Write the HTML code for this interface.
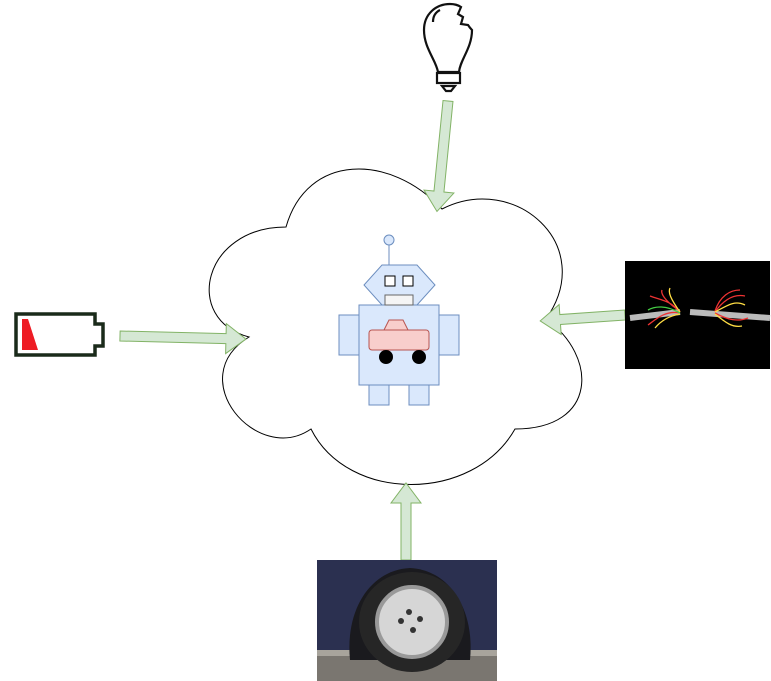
<!DOCTYPE html>
<html><head><style>html,body{margin:0;padding:0;background:#fff}svg{display:block}</style></head>
<body>
<svg width="771" height="681" viewBox="0 0 771 681" xmlns="http://www.w3.org/2000/svg">
<defs>
<radialGradient id="tire" cx="0.5" cy="0.5" r="0.5"><stop offset="0.55" stop-color="#ddd"/><stop offset="0.62" stop-color="#aaa"/><stop offset="0.66" stop-color="#333"/><stop offset="1" stop-color="#222"/></radialGradient>
</defs>
<!-- cloud -->
<g transform="translate(182,135)">
<path d="M104,92 C21,92 0,184 67,202 C0,243 75,331 129,294 C166,368 291,368 333,294 C416,294 416,221 364,184 C416,110 333,37 260,74 C208,18 125,18 104,92 Z" fill="#fff" stroke="#000" stroke-width="1"/>
</g>
<!-- arrows -->
<g fill="#d5e8d4" stroke="#82b366" stroke-width="1">
<path transform="translate(120,336) rotate(1.4)" d="M0,-5 L106,-5 L106,-15 L126,0 L106,15 L106,5 L0,5 Z"/>
<path transform="translate(448,101) rotate(95.7)" d="M0,-5 L91,-5 L91,-15 L111,0 L91,15 L91,5 L0,5 Z"/>
<path transform="translate(625,315) rotate(176)" d="M0,-5 L65,-5 L65,-15 L85,0 L65,15 L65,5 L0,5 Z"/>
<path transform="translate(406,560) rotate(-90)" d="M0,-5 L57,-5 L57,-15 L77,0 L57,15 L57,5 L0,5 Z"/>
</g>
<!-- robot -->
<g stroke="#6c8ebf" stroke-width="1" fill="#dae8fc">
<line x1="389" y1="245" x2="389" y2="265"/>
<circle cx="389" cy="240" r="5"/>
<polygon points="382,265 417,265 435,285 417,305 382,305 364,285"/>
<rect x="339" y="315" width="20" height="40"/>
<rect x="439" y="315" width="20" height="40"/>
<rect x="369" y="385" width="20" height="20"/>
<rect x="409" y="385" width="20" height="20"/>
<rect x="359" y="305" width="80" height="80"/>
</g>
<rect x="385" y="276" width="10" height="10" fill="#fff" stroke="#000"/>
<rect x="403" y="276" width="10" height="10" fill="#fff" stroke="#000"/>
<rect x="385" y="295" width="28" height="10" fill="#f5f5f5" stroke="#666"/>
<polygon points="384,330 389,320 403,320 408,330" fill="#f8cecc" stroke="#b85450"/>
<rect x="369" y="330" width="60" height="20" rx="3" fill="#f8cecc" stroke="#b85450"/>
<circle cx="386" cy="357" r="7" fill="#000"/>
<circle cx="419" cy="357" r="7" fill="#000"/>
<!-- battery -->
<path d="M16,314 L95,314 L95,324 L103,324 L103,346 L95,346 L95,355 L16,355 Z" fill="#fff" stroke="#1a2a1a" stroke-width="3.5"/>
<polygon points="22,319 28,319 38,350 22,350" fill="#ee1c24"/>
<!-- bulb -->
<g fill="none" stroke="#111" stroke-width="2.2">
<path d="M438,72 C436,60 424,48 424,30 C424,14 436,4 450,4 C454,4 458,5 461,7 L458,14 L463,17 L461,24 L468,25 C470,28 472,30 472,30 C472,48 460,60 459,72 Z"/>
<path d="M433,22 C433,16 436,12 440,10"/>
<rect x="437" y="73" width="23" height="10"/>
<path d="M442,86 L455,86 L451,91 L446,91 Z"/>
</g>
<!-- wires -->
<rect x="625" y="261" width="145" height="108" fill="#000"/>
<g stroke-width="1.3" fill="none">
<path d="M680,312 L630,318" stroke="#bbb" stroke-width="6"/>
<path d="M690,312 L770,318" stroke="#bbb" stroke-width="6"/>
<path d="M680,312 C670,300 660,300 650,296 M680,313 C665,310 655,320 648,325 M680,311 C670,305 660,295 662,290" stroke="#e33"/>
<path d="M680,314 C668,316 660,322 655,328 M680,312 C670,298 668,292 670,288" stroke="#fd4"/>
<path d="M680,313 C666,305 655,306 648,310" stroke="#4c4"/>
<path d="M715,312 C725,298 735,294 745,296 M715,313 C728,320 738,322 748,318 M715,311 C720,296 730,290 740,290" stroke="#e33"/>
<path d="M715,314 C725,322 732,328 742,326 M715,312 C728,305 735,300 745,305" stroke="#fd4"/>
</g>
<!-- tire photo -->
<rect x="317" y="560" width="180" height="121" fill="#2b3050"/>
<rect x="317" y="655" width="180" height="26" fill="#7a7670"/>
<rect x="317" y="650" width="180" height="6" fill="#a8a49c"/>
<path d="M350,660 C345,610 370,570 410,568 C450,570 475,610 470,660 Z" fill="#1a1a1e"/>
<ellipse cx="412" cy="622" rx="53" ry="50" fill="#262626"/>
<circle cx="412" cy="622" r="35" fill="#d6d6d6" stroke="#999" stroke-width="4"/>
<circle cx="409" cy="612" r="3" fill="#333"/><circle cx="401" cy="621" r="3" fill="#333"/>
<circle cx="420" cy="619" r="3" fill="#333"/><circle cx="413" cy="630" r="3" fill="#333"/>
</svg>
</body></html>
